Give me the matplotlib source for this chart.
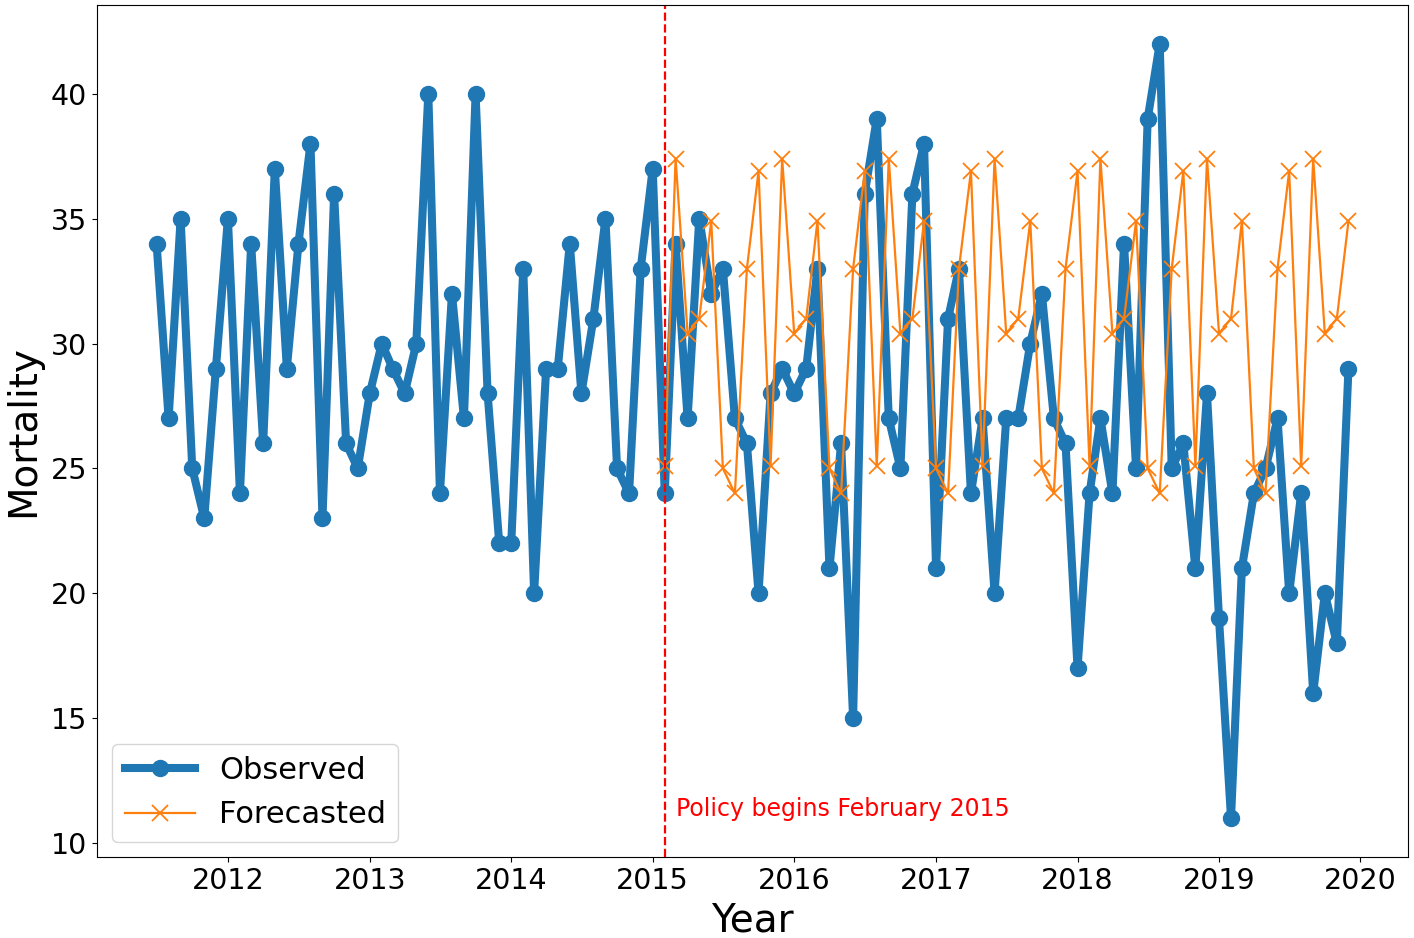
import numpy as np
import pandas as pd
import matplotlib
matplotlib.use('Agg')
import matplotlib.pyplot as plt

# observed monthly mortality, Jul 2011 - Dec 2019
obs_2011 = [34, 27, 35, 25, 23, 29]  # Jul-Dec
obs_2012 = [35, 24, 34, 26, 37, 29, 34, 38, 23, 36, 26, 25]
obs_2013 = [28, 30, 29, 28, 30, 40, 24, 32, 27, 40, 28, 22]
obs_2014 = [22, 33, 20, 29, 29, 34, 28, 31, 35, 25, 24, 33]
obs_2015 = [37, 24, 34, 27, 35, 32, 33, 27, 26, 20, 28, 29]
obs_2016 = [28, 29, 33, 21, 26, 15, 36, 39, 27, 25, 36, 38]
obs_2017 = [21, 31, 33, 24, 27, 20, 27, 27, 30, 32, 27, 26]
obs_2018 = [17, 24, 27, 24, 34, 25, 39, 42, 25, 26, 21, 28]
obs_2019 = [19, 11, 21, 24, 25, 27, 20, 24, 16, 20, 18, 29]

# forecast, Feb 2015 - Dec 2019
fc_2015 = [25.1, 37.4, 30.4, 31.0, 34.9, 25.0, 24.0, 33.0, 36.9, 25.1, 37.4]  # Feb-Dec
fc_2016 = [30.4, 31.0, 34.9, 25.0, 24.0, 33.0, 36.9, 25.1, 37.4, 30.4, 31.0, 34.9]
fc_2017 = [25.0, 24.0, 33.0, 36.9, 25.1, 37.4, 30.4, 31.0, 34.9, 25.0, 24.0, 33.0]
fc_2018 = [36.9, 25.1, 37.4, 30.4, 31.0, 34.9, 25.0, 24.0, 33.0, 36.9, 25.1, 37.4]
fc_2019 = [30.4, 31.0, 34.9, 25.0, 24.0, 33.0, 36.9, 25.1, 37.4, 30.4, 31.0, 34.9]

observed = obs_2011 + obs_2012 + obs_2013 + obs_2014 + obs_2015 + obs_2016 + obs_2017 + obs_2018 + obs_2019
forecast = fc_2015 + fc_2016 + fc_2017 + fc_2018 + fc_2019

obsDates = pd.date_range('2011-07-01', periods=len(observed), freq='MS')
fcDates = pd.date_range('2015-02-01', periods=len(forecast), freq='MS')
policyDate = pd.Timestamp('2015-02-01')

fig = plt.figure(figsize=(14.14, 9.38), dpi=100)
ax = fig.add_axes([0.0686, 0.0864, 0.9272, 0.9083])

ax.plot(obsDates, observed, marker='o', color='#1f77b4', linewidth=5.8,
        markersize=11.5, label='Observed')
ax.plot(fcDates, forecast, marker='x', color='#ff7f0e', linewidth=1.6,
        markersize=12, markeredgewidth=1.3, label='Forecasted')
ax.axvline(policyDate, color='red', linestyle='--', linewidth=1.6)
ax.text(pd.Timestamp('2015-03-01'), 11.35, 'Policy begins February 2015',
        color='red', fontsize=17, ha='left', va='center')

ax.set_xlabel('Year', fontsize=28, labelpad=5)
ax.set_ylabel('Mortality', fontsize=28, labelpad=6)
ax.tick_params(axis='both', labelsize=20.5)

ax.legend(loc='lower left', fontsize=22, handlelength=2.3)

fig.savefig('out.png', dpi=100)
